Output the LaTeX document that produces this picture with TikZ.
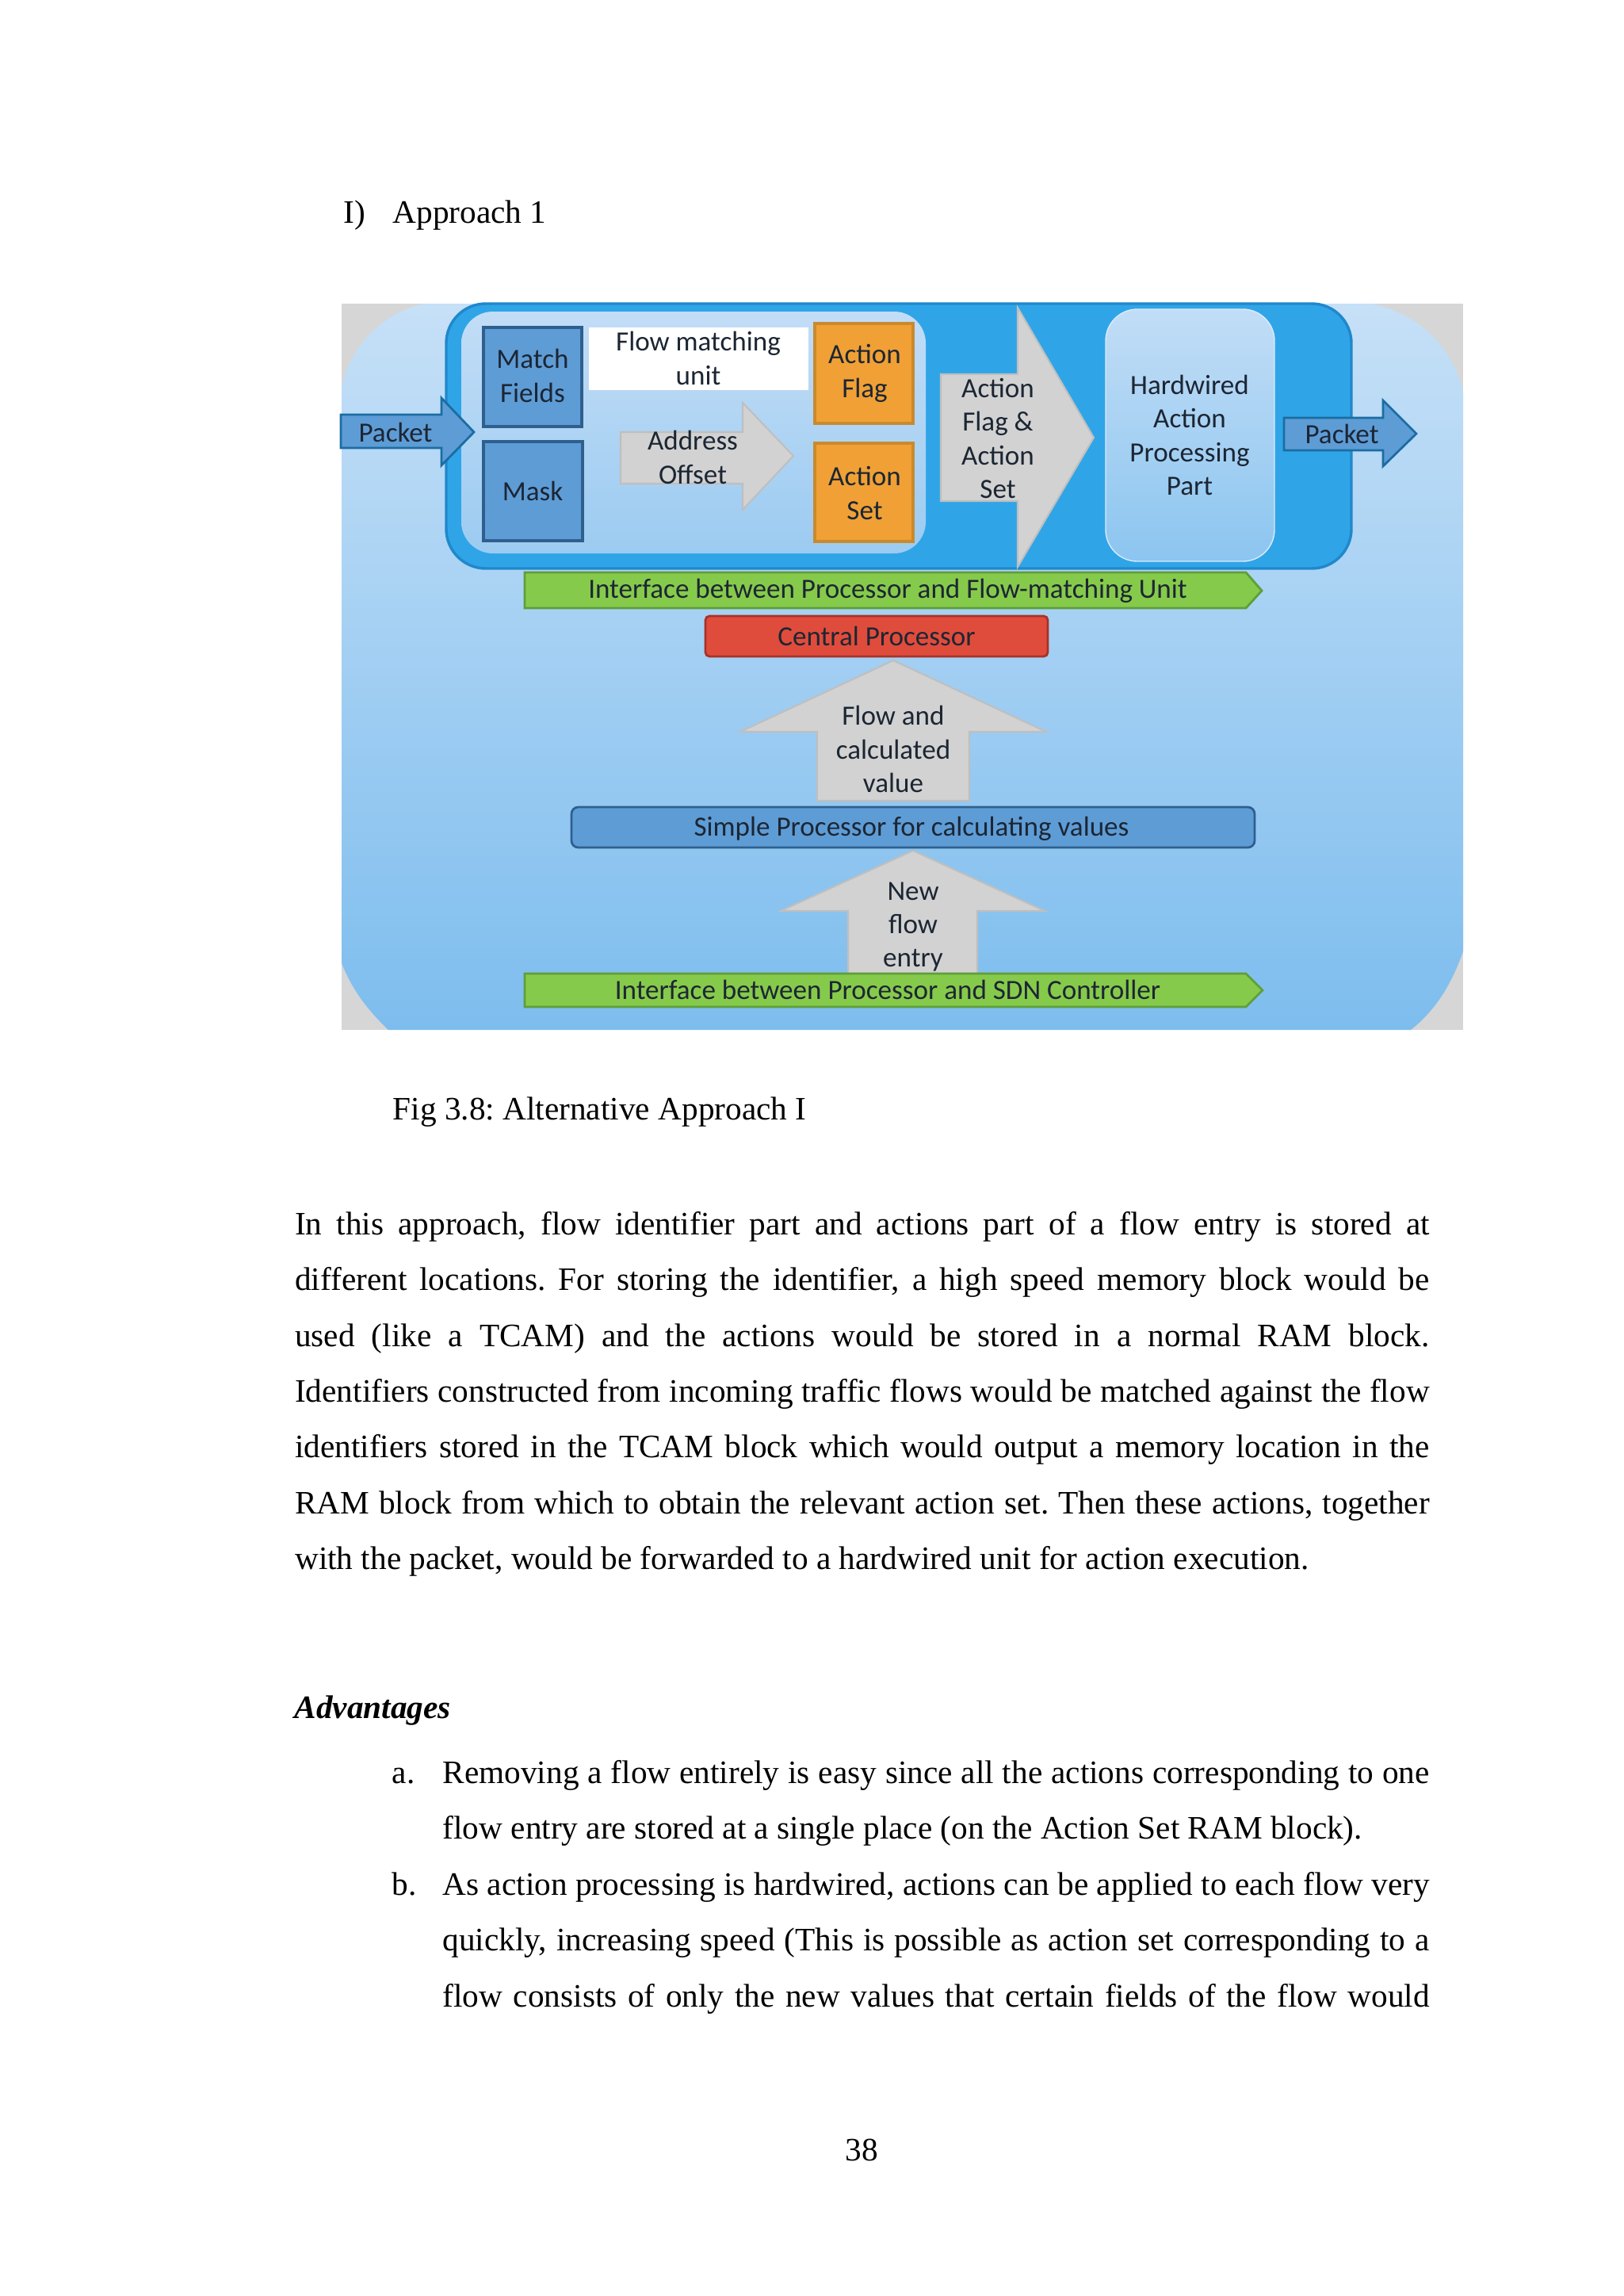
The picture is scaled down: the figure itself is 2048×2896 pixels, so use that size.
\documentclass[tikz,border=0pt]{standalone}
\usepackage{fontspec}
\setmainfont{Liberation Serif}
\newfontfamily\dfont{Carlito}
\definecolor{greybg}{HTML}{D6D6D6}
\definecolor{lbtop}{HTML}{C6E0F7}
\definecolor{lbbot}{HTML}{7DBDEE}
\definecolor{dblue}{HTML}{2FA5E8}
\definecolor{dblueb}{HTML}{2088CB}
\definecolor{regtop}{HTML}{C2DDF6}
\definecolor{regbot}{HTML}{9CCBF1}
\definecolor{midblue}{HTML}{5E9CD6}
\definecolor{midblueb}{HTML}{2E5F8E}
\definecolor{orng}{HTML}{F0A035}
\definecolor{orngb}{HTML}{C98A2D}
\definecolor{grn}{HTML}{86CA4B}
\definecolor{grnb}{HTML}{5F9E3A}
\definecolor{redc}{HTML}{E04C3C}
\definecolor{redb}{HTML}{A83226}
\definecolor{greyarr}{HTML}{D2D2D2}
\definecolor{greyarrb}{HTML}{BFBFBF}
\definecolor{txtd}{HTML}{1C2633}
\def\PX{0.29066pt}
\frenchspacing
\tikzset{
  dtext/.style={font=\dfont\fontsize{10.2}{12.3}\selectfont, text=txtd, align=center, inner sep=0pt},
  bodyl/.style={font=\fontsize{12}{14}\selectfont, anchor=base west, inner sep=0pt},
  sqbox/.style={draw=midblueb, fill=midblue, line width=1pt},
  orbox/.style={draw=orngb, fill=orng, line width=1pt},
  garrow/.style={draw=greyarrb, fill=greyarr, line width=0.6pt},
  barrow/.style={draw=dblueb!80!black, fill=midblue, line width=0.8pt},
  gbar/.style={draw=grnb, fill=grn, line width=0.8pt},
}
\begin{document}
\begin{tikzpicture}[x=0.29066pt,y=-0.29066pt]
\useasboundingbox (0,0) rectangle (2048,2896);
\fill[white] (0,0) rectangle (2048,2896);
% diagram background
\fill[greybg] (431,383) rectangle (1846,1299);
\shade[top color=lbtop, bottom color=lbbot]
  (535,383) -- (1730,383) .. controls (1790,395) and (1835,440) .. (1846,495)
  -- (1846,1200) .. controls (1830,1245) and (1810,1275) .. (1780,1299)
  -- (490,1299) .. controls (465,1275) and (445,1250) .. (431,1215)
  -- (431,490) .. controls (440,440) and (480,395) .. (535,383) -- cycle;
% flow-matching unit frame
\draw[fill=dblue, draw=dblueb, line width=1pt, rounded corners=14.5pt] (563,383) rectangle (1705,717);
\shade[top color=regtop, bottom color=regbot, rounded corners=11.6pt] (582,393) rectangle (1168,698);
% boxes
\node[sqbox, minimum width=124*\PX, minimum height=125*\PX] (mfbox) at (672,475.5) {};
\node[sqbox, minimum width=125*\PX, minimum height=125*\PX] (maskbox) at (672.5,619.5) {};
\node[fill=white, minimum width=277*\PX, minimum height=79*\PX, inner sep=0pt] (fmubox) at (881.5,452.5) {};
\node[orbox, minimum width=124*\PX, minimum height=126*\PX] (afbox) at (1090,471) {};
\node[orbox, minimum width=124*\PX, minimum height=124*\PX] (asbox) at (1090,621) {};
% address offset arrow
\draw[garrow] (783,545) -- (937,545) -- (937,508) -- (1001,575) -- (937,643) -- (937,610) -- (783,610) -- cycle;
% big arrow
\draw[garrow] (1187,472) -- (1284,472) -- (1284,388) -- (1380,552) -- (1284,715) -- (1284,632) -- (1187,632) -- cycle;
% hardwired
\shade[top color=regtop, bottom color=regbot!85!dblue, rounded corners=11.6pt, draw=regtop!60!white] (1395,390) rectangle (1608,708);
% packet arrows
\draw[barrow] (430,523) -- (557,523) -- (557,502) -- (598,545) -- (557,587) -- (557,565) -- (430,565) -- cycle;
\draw[barrow] (1620,527) -- (1745,527) -- (1745,505) -- (1787,547) -- (1745,588) -- (1745,568) -- (1620,568) -- cycle;
% interface bars
\draw[gbar] (662,722) -- (1572,722) -- (1592,745) -- (1572,767) -- (662,767) -- cycle;
% central processor
\node[draw=redb, fill=redc, rounded corners=1.5pt, line width=0.8pt, minimum width=432*\PX, minimum height=51*\PX] (cpbox) at (1106,802.5) {};
% up arrow 1
\draw[garrow] (1127,833) -- (1320,923) -- (1223,923) -- (1223,1010) -- (1031,1010) -- (1031,923) -- (934,923) -- cycle;
% simple processor
\node[draw=midblueb, fill=midblue, rounded corners=2.5pt, line width=0.8pt, minimum width=862*\PX, minimum height=51*\PX] (spbox) at (1152,1043.5) {};
% up arrow 2
\draw[garrow] (1152,1073) -- (1318,1149) -- (1233,1149) -- (1233,1230) -- (1070,1230) -- (1070,1149) -- (985,1149) -- cycle;
\draw[gbar] (662,1228) -- (1572,1228) -- (1593,1249) -- (1572,1270) -- (662,1270) -- cycle;
% diagram texts
\node[dtext] (tmf) at (672,474) {Match\\Fields};
\node[dtext] (tmask) at (672,619) {Mask};
\node[dtext] (tfmu) at (881,452) {Flow matching\\unit};
\node[dtext] (tao) at (874,577) {Address\\Offset};
\node[dtext] (taf) at (1091,471) {Action\\Flag};
\node[dtext] (tas) at (1091,622) {Action\\Set};
\node[dtext] (tafas) at (1259,553) {Action\\Flag \&\\Action\\Set};
\node[dtext] (thw) at (1501,549) {Hardwired\\Action\\Processing\\Part};
\node[dtext] (tpin) at (499,545) {Packet};
\node[dtext] (tpout) at (1693,547) {Packet};
\node[dtext] (tif1) at (1120,745) {Interface between Processor and Flow-matching Unit};
\node[dtext] (tcp) at (1106,802) {Central Processor};
\node[dtext] (tfcv) at (1127,945) {Flow and\\calculated\\value};
\node[dtext] (tsp) at (1150,1045) {Simple Processor for calculating values};
\node[dtext] (tnfe) at (1152,1169) {New\\flow\\entry};
\node[dtext] (tif2) at (1120,1248) {Interface between Processor and SDN Controller};
% page text
\node[bodyl] (hnum) at (433,281) {I)};
\node[bodyl] (htitle) at (495,281) {Approach 1};
\node[bodyl] (figcap) at (495,1412) {Fig 3.8: Alternative Approach I};
\node[bodyl] (p1) at (371.5,1557.6) {\makebox[416.1pt][s]{In this approach, flow identifier part and actions part of a flow entry is stored at}};
\node[bodyl] (p2) at (371.5,1627.9) {\makebox[416.1pt][s]{different locations. For storing the identifier, a high speed memory block would be}};
\node[bodyl] (p3) at (371.5,1698.2) {\makebox[416.1pt][s]{used (like a TCAM) and the actions would be stored in a normal RAM block.}};
\node[bodyl] (p4) at (371.5,1768.6) {\makebox[416.1pt][s]{Identifiers constructed from incoming traffic flows would be matched against the flow}};
\node[bodyl] (p5) at (371.5,1838.9) {\makebox[416.1pt][s]{identifiers stored in the TCAM block which would output a memory location in the}};
\node[bodyl] (p6) at (371.5,1909.2) {\makebox[416.1pt][s]{RAM block from which to obtain the relevant action set. Then these actions, together}};
\node[bodyl] (p7) at (371.5,1979.5) {with the packet, would be forwarded to a hardwired unit for action execution.};
\node[bodyl] (adv) at (371,2167) {\textbf{\textit{Advantages}}};
\node[bodyl] (ia) at (494,2249.6) {a.};
\node[bodyl] (ia1) at (558,2249.6) {\makebox[361.9pt][s]{Removing a flow entirely is easy since all the actions corresponding to one}};
\node[bodyl] (ia2) at (558,2319) {flow entry are stored at a single place (on the Action Set RAM block).};
\node[bodyl] (ib) at (494,2390) {b.};
\node[bodyl] (ib1) at (558,2390) {\makebox[361.9pt][s]{As action processing is hardwired, actions can be applied to each flow very}};
\node[bodyl] (ib2) at (558,2460) {\makebox[361.9pt][s]{quickly, increasing speed (This is possible as action set corresponding to a}};
\node[bodyl] (ib3) at (558,2531) {\makebox[361.9pt][s]{flow consists of only the new values that certain fields of the flow would}};
\node[bodyl, anchor=base] (pnum) at (1087,2725) {38};
\end{tikzpicture}
\end{document}
